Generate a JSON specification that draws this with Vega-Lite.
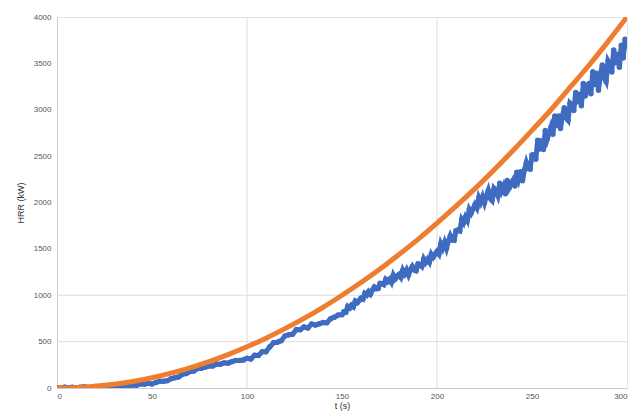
{
  "$schema": "https://vega.github.io/schema/vega-lite/v6.json",
  "width": 570,
  "height": 371,
  "autosize": {"type": "none"},
  "padding": {"left": 57, "top": 17, "right": 4, "bottom": 28},
  "background": "white",
  "config": {
    "font": "Liberation Sans",
    "view": {"stroke": "#e4e4e4", "strokeWidth": 1},
    "axis": {"labelFont": "Liberation Sans", "titleFont": "Liberation Sans", "labelFontSize": 8, "labelColor": "#555555", "titleFontSize": 9, "titleFontWeight": "normal", "titleColor": "#333333", "grid": false, "ticks": false, "domainColor": "#cccccc", "format": "d"}
  },
  "datasets": {
    "gx": [{"t": 100}, {"t": 200}],
    "gy": [{"hrr": 500}, {"hrr": 1000}],
    "model": [
      {"t": 0, "hrr": 0}, {"t": 10, "hrr": 4}, {"t": 20, "hrr": 18}, {"t": 30, "hrr": 40}, {"t": 40, "hrr": 71},
      {"t": 50, "hrr": 111}, {"t": 60, "hrr": 160}, {"t": 70, "hrr": 218}, {"t": 80, "hrr": 284}, {"t": 90, "hrr": 360},
      {"t": 100, "hrr": 444}, {"t": 110, "hrr": 537}, {"t": 120, "hrr": 640}, {"t": 130, "hrr": 750}, {"t": 140, "hrr": 870},
      {"t": 150, "hrr": 1000}, {"t": 160, "hrr": 1137}, {"t": 170, "hrr": 1283}, {"t": 180, "hrr": 1440}, {"t": 190, "hrr": 1603},
      {"t": 200, "hrr": 1778}, {"t": 210, "hrr": 1960}, {"t": 220, "hrr": 2150}, {"t": 230, "hrr": 2350}, {"t": 240, "hrr": 2560},
      {"t": 250, "hrr": 2778}, {"t": 260, "hrr": 3000}, {"t": 270, "hrr": 3240}, {"t": 280, "hrr": 3480}, {"t": 290, "hrr": 3735},
      {"t": 300, "hrr": 4000}
    ],
    "meas": [
      {"t": 0, "hrr": 2}, {"t": 2, "hrr": -3}, {"t": 4, "hrr": 9}, {"t": 6, "hrr": 1}, {"t": 8, "hrr": 8},
      {"t": 10, "hrr": -2}, {"t": 12, "hrr": 7}, {"t": 14, "hrr": 14}, {"t": 16, "hrr": 5}, {"t": 18, "hrr": 5},
      {"t": 20, "hrr": 17}, {"t": 22, "hrr": 16}, {"t": 24, "hrr": 11}, {"t": 26, "hrr": 25}, {"t": 28, "hrr": 17},
      {"t": 30, "hrr": 23}, {"t": 32, "hrr": 16}, {"t": 34, "hrr": 30}, {"t": 36, "hrr": 24}, {"t": 38, "hrr": 28},
      {"t": 40, "hrr": 32}, {"t": 42, "hrr": 29}, {"t": 44, "hrr": 45}, {"t": 46, "hrr": 40}, {"t": 48, "hrr": 50},
      {"t": 50, "hrr": 43}, {"t": 52, "hrr": 59}, {"t": 54, "hrr": 72}, {"t": 56, "hrr": 72}, {"t": 58, "hrr": 79},
      {"t": 60, "hrr": 100}, {"t": 62, "hrr": 111}, {"t": 64, "hrr": 119}, {"t": 66, "hrr": 147}, {"t": 68, "hrr": 156},
      {"t": 70, "hrr": 178}, {"t": 72, "hrr": 183}, {"t": 74, "hrr": 209}, {"t": 76, "hrr": 213}, {"t": 78, "hrr": 225},
      {"t": 80, "hrr": 237}, {"t": 82, "hrr": 238}, {"t": 84, "hrr": 258}, {"t": 86, "hrr": 257}, {"t": 88, "hrr": 271},
      {"t": 90, "hrr": 268}, {"t": 92, "hrr": 284}, {"t": 94, "hrr": 297}, {"t": 96, "hrr": 296}, {"t": 98, "hrr": 301},
      {"t": 100, "hrr": 320}, {"t": 102, "hrr": 313}, {"t": 104, "hrr": 353}, {"t": 106, "hrr": 350}, {"t": 108, "hrr": 392},
      {"t": 110, "hrr": 392}, {"t": 112, "hrr": 444}, {"t": 114, "hrr": 488}, {"t": 116, "hrr": 494}, {"t": 118, "hrr": 510},
      {"t": 120, "hrr": 562}, {"t": 122, "hrr": 574}, {"t": 124, "hrr": 580}, {"t": 126, "hrr": 630}, {"t": 128, "hrr": 628},
      {"t": 130, "hrr": 658}, {"t": 132, "hrr": 648}, {"t": 134, "hrr": 690}, {"t": 136, "hrr": 678}, {"t": 138, "hrr": 692},
      {"t": 140, "hrr": 706}, {"t": 142, "hrr": 704}, {"t": 144, "hrr": 746}, {"t": 146, "hrr": 764}, {"t": 148, "hrr": 786},
      {"t": 150, "hrr": 790}, {"t": 151, "hrr": 822}, {"t": 152, "hrr": 817}, {"t": 153, "hrr": 878}, {"t": 154, "hrr": 861},
      {"t": 155, "hrr": 892}, {"t": 156, "hrr": 875}, {"t": 157, "hrr": 936}, {"t": 158, "hrr": 919}, {"t": 159, "hrr": 944},
      {"t": 160, "hrr": 969}, {"t": 161, "hrr": 958}, {"t": 162, "hrr": 1019}, {"t": 163, "hrr": 1002}, {"t": 164, "hrr": 1039},
      {"t": 165, "hrr": 1013}, {"t": 166, "hrr": 1057}, {"t": 167, "hrr": 1089}, {"t": 168, "hrr": 1070}, {"t": 169, "hrr": 1072},
      {"t": 170, "hrr": 1128}, {"t": 171, "hrr": 1126}, {"t": 172, "hrr": 1115}, {"t": 173, "hrr": 1170}, {"t": 174, "hrr": 1147},
      {"t": 175, "hrr": 1172}, {"t": 176, "hrr": 1138}, {"t": 177, "hrr": 1216}, {"t": 178, "hrr": 1176}, {"t": 179, "hrr": 1200},
      {"t": 180, "hrr": 1223}, {"t": 181, "hrr": 1193}, {"t": 182, "hrr": 1270}, {"t": 183, "hrr": 1231}, {"t": 184, "hrr": 1272},
      {"t": 185, "hrr": 1219}, {"t": 186, "hrr": 1274}, {"t": 187, "hrr": 1311}, {"t": 188, "hrr": 1272}, {"t": 189, "hrr": 1264},
      {"t": 190, "hrr": 1337}, {"t": 191, "hrr": 1331}, {"t": 192, "hrr": 1311}, {"t": 193, "hrr": 1391}, {"t": 194, "hrr": 1353},
      {"t": 195, "hrr": 1388}, {"t": 196, "hrr": 1356}, {"t": 197, "hrr": 1442}, {"t": 198, "hrr": 1410}, {"t": 199, "hrr": 1442},
      {"t": 200, "hrr": 1473}, {"t": 201, "hrr": 1444}, {"t": 202, "hrr": 1554}, {"t": 203, "hrr": 1508}, {"t": 204, "hrr": 1570},
      {"t": 205, "hrr": 1506}, {"t": 206, "hrr": 1586}, {"t": 207, "hrr": 1642}, {"t": 208, "hrr": 1596}, {"t": 209, "hrr": 1592},
      {"t": 210, "hrr": 1696}, {"t": 211, "hrr": 1704}, {"t": 212, "hrr": 1694}, {"t": 213, "hrr": 1816}, {"t": 214, "hrr": 1782},
      {"t": 215, "hrr": 1844}, {"t": 216, "hrr": 1806}, {"t": 217, "hrr": 1924}, {"t": 218, "hrr": 1886}, {"t": 219, "hrr": 1932},
      {"t": 220, "hrr": 1978}, {"t": 221, "hrr": 1942}, {"t": 222, "hrr": 2050}, {"t": 223, "hrr": 2002}, {"t": 224, "hrr": 2062},
      {"t": 225, "hrr": 1996}, {"t": 226, "hrr": 2069}, {"t": 227, "hrr": 2130}, {"t": 228, "hrr": 2046}, {"t": 229, "hrr": 2022},
      {"t": 230, "hrr": 2151}, {"t": 231, "hrr": 2125}, {"t": 232, "hrr": 2074}, {"t": 233, "hrr": 2209}, {"t": 234, "hrr": 2124},
      {"t": 235, "hrr": 2174}, {"t": 236, "hrr": 2095}, {"t": 237, "hrr": 2236}, {"t": 238, "hrr": 2157}, {"t": 239, "hrr": 2196},
      {"t": 240, "hrr": 2236}, {"t": 241, "hrr": 2179}, {"t": 242, "hrr": 2327}, {"t": 243, "hrr": 2253}, {"t": 244, "hrr": 2333},
      {"t": 245, "hrr": 2234}, {"t": 246, "hrr": 2349}, {"t": 247, "hrr": 2430}, {"t": 248, "hrr": 2366}, {"t": 249, "hrr": 2362},
      {"t": 250, "hrr": 2511}, {"t": 251, "hrr": 2515}, {"t": 252, "hrr": 2467}, {"t": 253, "hrr": 2671}, {"t": 254, "hrr": 2577},
      {"t": 255, "hrr": 2666}, {"t": 256, "hrr": 2572}, {"t": 257, "hrr": 2776}, {"t": 258, "hrr": 2682}, {"t": 259, "hrr": 2748},
      {"t": 260, "hrr": 2815}, {"t": 261, "hrr": 2735}, {"t": 262, "hrr": 2932}, {"t": 263, "hrr": 2829}, {"t": 264, "hrr": 2934},
      {"t": 265, "hrr": 2797}, {"t": 266, "hrr": 2932}, {"t": 267, "hrr": 3021}, {"t": 268, "hrr": 2914}, {"t": 269, "hrr": 2888},
      {"t": 270, "hrr": 3069}, {"t": 271, "hrr": 3047}, {"t": 272, "hrr": 2991}, {"t": 273, "hrr": 3187}, {"t": 274, "hrr": 3085},
      {"t": 275, "hrr": 3166}, {"t": 276, "hrr": 3043}, {"t": 277, "hrr": 3284}, {"t": 278, "hrr": 3149}, {"t": 279, "hrr": 3216},
      {"t": 280, "hrr": 3284}, {"t": 281, "hrr": 3173}, {"t": 282, "hrr": 3411}, {"t": 283, "hrr": 3271}, {"t": 284, "hrr": 3393},
      {"t": 285, "hrr": 3210}, {"t": 286, "hrr": 3375}, {"t": 287, "hrr": 3482}, {"t": 288, "hrr": 3342}, {"t": 289, "hrr": 3304},
      {"t": 290, "hrr": 3527}, {"t": 291, "hrr": 3489}, {"t": 292, "hrr": 3408}, {"t": 293, "hrr": 3645}, {"t": 294, "hrr": 3506},
      {"t": 295, "hrr": 3598}, {"t": 296, "hrr": 3459}, {"t": 297, "hrr": 3696}, {"t": 298, "hrr": 3557}, {"t": 299, "hrr": 3760},
      {"t": 300, "hrr": 3684}
    ]
  },
  "encoding": {
    "x": {"field": "t", "type": "quantitative", "title": "t (s)", "scale": {"domain": [0, 300], "nice": false, "zero": true},
      "axis": {"values": [0, 50, 100, 150, 200, 250, 300], "labelPadding": 4, "titlePadding": 1}},
    "y": {"field": "hrr", "type": "quantitative", "title": "HRR (kW)", "scale": {"domain": [0, 4000], "nice": false},
      "axis": {"values": [0, 500, 1000, 1500, 2000, 2500, 3000, 3500, 4000], "labelPadding": 6, "titlePadding": 8}}
  },
  "layer": [
    {"data": {"name": "gx"}, "mark": {"type": "rule", "color": "#dddddd", "strokeWidth": 1}, "encoding": {"y": null}},
    {"data": {"name": "gy"}, "mark": {"type": "rule", "color": "#dddddd", "strokeWidth": 1}, "encoding": {"x": null}},
    {"data": {"name": "meas"}, "mark": {"type": "line", "color": "#3f6cc0", "strokeWidth": 5, "clip": true}},
    {"data": {"name": "meas"}, "mark": {"type": "circle", "color": "#3f6cc0", "size": 30, "opacity": 1, "clip": true}},
    {"data": {"name": "model"}, "mark": {"type": "line", "color": "#ee7d30", "strokeWidth": 5, "interpolate": "monotone", "clip": true}}
  ]
}
